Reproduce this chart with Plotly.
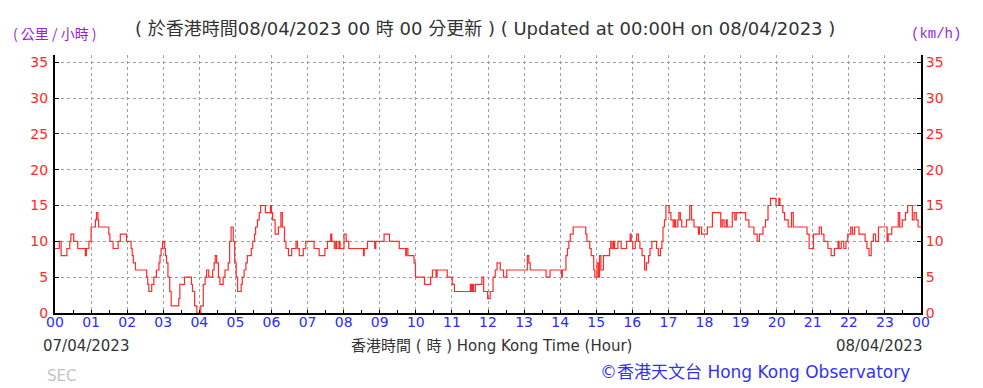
import plotly.graph_objects as go

# Wind speed (km/h), stepped record: breakpoint hours after 00:00 07/04/2023 and values
hours = [0.00, 0.12, 0.17, 0.33, 0.41, 0.44, 0.52, 0.63, 0.84, 0.87, 0.94, 1.00, 1.12, 1.15, 1.19, 1.21,
         1.49, 1.52, 1.61, 1.75, 1.81, 1.98, 2.11, 2.14, 2.17, 2.23, 2.54, 2.57, 2.60, 2.68, 2.74, 2.81,
         2.88, 2.91, 2.94, 2.98, 3.04, 3.06, 3.09, 3.13, 3.18, 3.22, 3.43, 3.46, 3.59, 3.78, 3.81, 3.87,
         3.93, 4.04, 4.11, 4.16, 4.20, 4.26, 4.37, 4.41, 4.44, 4.48, 4.53, 4.57, 4.66, 4.71, 4.80, 4.84,
         4.88, 4.94, 4.98, 5.02, 5.06, 5.16, 5.19, 5.24, 5.29, 5.33, 5.44, 5.48, 5.53, 5.56, 5.61, 5.66,
         5.70, 5.83, 5.97, 6.00, 6.03, 6.10, 6.19, 6.26, 6.30, 6.36, 6.40, 6.47, 6.56, 6.68, 6.72, 6.77,
         6.88, 6.95, 7.18, 7.32, 7.48, 7.55, 7.64, 7.67, 7.74, 7.78, 7.81, 7.87, 7.90, 8.01, 8.07, 8.14,
         8.55, 8.57, 8.66, 8.86, 8.89, 9.12, 9.27, 9.54, 9.72, 9.74, 9.78, 9.95, 9.99, 10.24, 10.41, 10.46,
         10.56, 10.59, 10.87, 11.01, 11.07, 11.51, 11.54, 11.57, 11.60, 11.65, 11.83, 11.88, 11.99, 12.06,
         12.14, 12.20, 12.25, 12.34, 12.43, 12.52, 13.09, 13.13, 13.17, 13.61, 13.72, 14.04, 14.06, 14.16,
         14.20, 14.24, 14.28, 14.36, 14.71, 14.74, 14.82, 14.86, 14.93, 14.96, 15.02, 15.06, 15.09, 15.13,
         15.20, 15.37, 15.40, 15.44, 15.48, 15.51, 15.60, 15.69, 15.84, 15.94, 15.97, 16.01, 16.08, 16.12,
         16.17, 16.21, 16.27, 16.34, 16.39, 16.45, 16.49, 16.54, 16.67, 16.72, 16.78, 16.82, 16.85, 16.89,
         16.93, 17.02, 17.07, 17.13, 17.17, 17.20, 17.26, 17.29, 17.33, 17.37, 17.50, 17.59, 17.64, 17.71,
         17.83, 17.86, 17.92, 17.99, 18.08, 18.22, 18.45, 18.49, 18.54, 18.60, 18.63, 18.77, 18.84, 18.88,
         19.14, 19.23, 19.37, 19.46, 19.52, 19.62, 19.69, 19.76, 19.83, 19.98, 20.06, 20.09, 20.17, 20.22,
         20.32, 20.41, 20.46, 20.84, 20.90, 21.02, 21.18, 21.24, 21.31, 21.42, 21.51, 21.60, 21.70, 21.73,
         21.79, 21.86, 21.92, 21.97, 22.05, 22.10, 22.16, 22.28, 22.45, 22.50, 22.56, 22.62, 22.68, 22.74,
         22.82, 23.06, 23.09, 23.19, 23.37, 23.41, 23.48, 23.57, 23.63, 23.76, 23.81, 23.87, 23.92, 24.00]
speeds = [9, 10, 8, 9, 10, 11, 10, 9, 8, 9, 10, 12, 13, 14, 13, 12,
          11, 10, 9, 10, 11, 10, 9, 8, 7, 6, 5, 4, 3, 4, 5, 6,
          7, 8, 9, 10, 9, 8, 7, 5, 3, 1, 2, 4, 5, 4, 3, 1,
          0, 1, 4, 5, 6, 5, 6, 7, 8, 7, 5, 4, 5, 6, 7, 10,
          12, 10, 7, 5, 3, 4, 5, 6, 7, 8, 9, 10, 11, 12, 13, 14,
          15, 14, 15, 14, 13, 11, 12, 14, 12, 10, 9, 8, 9, 10, 9, 8,
          9, 10, 9, 8, 9, 10, 11, 10, 9, 10, 9, 10, 9, 11, 10, 9,
          8, 9, 10, 9, 10, 11, 10, 9, 8, 9, 8, 7, 5, 4, 5, 6,
          5, 6, 5, 4, 3, 4, 3, 4, 3, 4, 5, 3, 2, 3,
          5, 6, 7, 6, 5, 6, 8, 7, 6, 5, 6, 5, 6, 8,
          9, 10, 11, 12, 11, 10, 9, 8, 6, 5, 7, 5, 8, 6,
          8, 9, 10, 9, 10, 9, 10, 9, 10, 11, 10, 9, 10, 11,
          10, 9, 8, 6, 7, 8, 9, 10, 9, 8, 9, 10, 12, 13,
          15, 14, 13, 12, 13, 12, 13, 14, 13, 12, 13, 15, 13, 12,
          11, 12, 11, 11, 12, 14, 12, 13, 12, 13, 12, 14, 13, 14,
          13, 12, 11, 10, 11, 12, 13, 15, 16, 15, 16, 15, 14, 13,
          12, 14, 12, 11, 9, 11, 12, 11, 10, 9, 8, 9, 10, 9,
          10, 9, 10, 11, 12, 11, 12, 11, 10, 9, 8, 10, 11, 10,
          12, 10, 11, 12, 14, 12, 13, 14, 15, 13, 14, 13, 12, 12]

x_tickvals = list(range(0, 25))
x_ticktext = ["00", "01", "02", "03", "04", "05", "06", "07", "08", "09", "10", "11",
              "12", "13", "14", "15", "16", "17", "18", "19", "20", "21", "22", "23", "00"]
y_tickvals = [0, 5, 10, 15, 20, 25, 30, 35]

W, H = 983, 388
L, R, T, B = 54.5, 921.5, 55, 313


def px(x):
    return (x - L) / (R - L)


def py(y):
    return (B - y) / (B - T)


fig = go.Figure()
fig.add_trace(go.Scatter(x=hours, y=speeds, mode="lines", line=dict(color="#ff2a2a", width=1.2, shape="hv"),
                         showlegend=False, hoverinfo="x+y"))
fig.add_trace(go.Scatter(x=hours, y=speeds, mode="lines", line=dict(color="rgba(0,0,0,0)", width=0),
                         yaxis="y2", showlegend=False, hoverinfo="skip"))

tickfont = dict(family="DejaVu Sans", size=14)
fig.update_layout(
    width=W, height=H,
    margin=dict(l=L, r=W - R, t=T, b=H - B, pad=0),
    paper_bgcolor="white", plot_bgcolor="white",
    xaxis=dict(range=[0, 24], tickvals=x_tickvals, ticktext=x_ticktext,
               tickfont=dict(tickfont, color="#2b2bff"),
               showline=True, linecolor="black", linewidth=2,
               ticks="inside", ticklen=3, tickcolor="black",
               ticklabelstandoff=-5,
               showgrid=True, gridcolor="#a0a0a0", griddash="dot", gridwidth=1,
               minor=dict(dtick=0.5, tick0=0, ticks="inside", ticklen=3, tickcolor="black", showgrid=False),
               zeroline=False, fixedrange=True),
    yaxis=dict(range=[0, 36], tickvals=y_tickvals,
               tickfont=dict(tickfont, color="#ff2a2a"),
               showline=True, linecolor="black", linewidth=2,
               ticks="inside", ticklen=4, tickcolor="black",
               ticklabelstandoff=2,
               showgrid=True, gridcolor="#a0a0a0", griddash="dot", gridwidth=1,
               zeroline=False, fixedrange=True),
    yaxis2=dict(range=[0, 36], tickvals=y_tickvals, overlaying="y", side="right",
                tickfont=dict(tickfont, color="#ff2a2a"),
                showline=True, linecolor="black", linewidth=2,
                ticks="inside", ticklen=4, tickcolor="black",
                showgrid=False, zeroline=False, fixedrange=True),
)

sans = "DejaVu Sans, Noto Sans CJK TC"
ann = [
    dict(text="( 於香港時間08/04/2023 00 時 00 分更新 ) ( Updated at 00:00H on 08/04/2023 )",
         x=px(485), y=py(28), xanchor="center", yanchor="middle",
         font=dict(family=sans, size=18, color="#333333")),
    dict(text="( 公里 / 小時 )", x=px(10), y=py(33), xanchor="left", yanchor="middle",
         font=dict(family="Noto Sans CJK TC", size=14, color="#9a1ee0")),
    dict(text="(km/h)", x=px(964), y=py(34), xanchor="right", yanchor="middle",
         font=dict(family="Liberation Mono", size=14, color="#9a1ee0")),
    dict(text="07/04/2023", x=px(40), y=py(346), xanchor="left", yanchor="middle",
         font=dict(family=sans, size=15, color="#333333")),
    dict(text="香港時間 ( 時 ) Hong Kong Time (Hour)", x=px(492), y=py(346), xanchor="center", yanchor="middle",
         font=dict(family=sans, size=15, color="#333333")),
    dict(text="08/04/2023", x=px(925), y=py(346), xanchor="right", yanchor="middle",
         font=dict(family=sans, size=15, color="#333333")),
    dict(text="SEC", x=px(44), y=py(376), xanchor="left", yanchor="middle",
         font=dict(family=sans, size=15, color="#c4c4c4")),
    dict(text="©香港天文台 Hong Kong Observatory", x=px(912), y=py(372), xanchor="right", yanchor="middle",
         font=dict(family=sans, size=17, color="#3434ee")),
]
for a in ann:
    a.update(xref="paper", yref="paper", showarrow=False)
    fig.add_annotation(**a)

fig.write_html("out.html", config={"displayModeBar": False},
               post_script="document.body.style.margin='0';document.body.style.padding='0';")
